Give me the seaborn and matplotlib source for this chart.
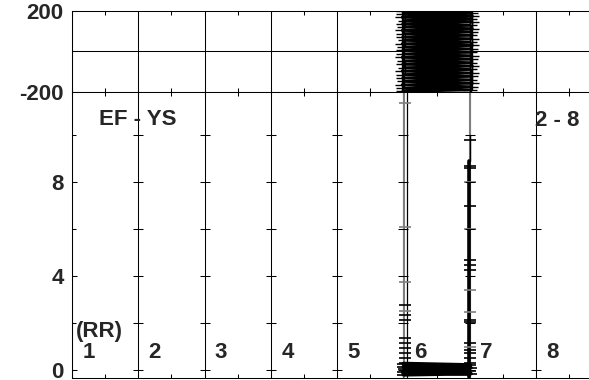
"""
Segmented RR chart: a short amplitude strip above a tall RR panel,
with the beats of segment 6 drawn on both.
"""
import matplotlib.pyplot as plt
import seaborn as sns


segment_labels = ["1", "2", "3", "4", "5", "6", "7", "8"]
segment_starts = [0, 1, 2, 3, 4, 5, 6, 7]

# top strip: burst of beats swinging across segment 6
burst_x = [4.99, 6.02, 5.0, 6.04, 4.98, 6.01, 5.02, 6.03, 4.99, 6.0,
           5.01, 6.04, 4.98, 6.02, 5.0, 6.01, 4.99, 6.03, 5.02, 6.0,
           4.98, 6.04, 5.01, 6.02, 4.99, 6.01, 5.0, 6.03, 4.98, 6.02,
           5.01, 6.0, 4.99, 6.04, 5.02, 6.01, 4.98, 6.03, 5.0, 6.02,
           4.99, 6.0, 5.01, 6.04, 4.98, 6.02, 5.0, 6.01, 4.99]
burst_y = [198, 191, 184, 176, 169, 161, 153, 146, 137, 129,
           121, 113, 104, 97, 88, 80, 71, 63, 55, 46,
           38, 30, 21, 13, 5, -4, -12, -21, -29, -38,
           -46, -55, -63, -72, -80, -89, -97, -106, -114, -123,
           -131, -140, -148, -157, -165, -174, -182, -190, -197]

# bottom panel: RR traces on the two edges of segment 6
left_grey_x = [5.015, 5.015]
left_grey_y = [-0.3, 12.5]
left_black_x = [5.05, 5.05]
left_black_y = [-0.3, 12.5]
right_grey_x = [6.01, 6.01]
right_grey_y = [-0.3, 12.5]
right_thin_x = [6.0, 6.0]
right_thin_y = [8.9, 10.0]
right_thick_x = [5.995, 5.995]
right_thick_y = [-0.3, 8.9]

left_x = 5.02
left_grey_marks = [11.36, 6.09, 3.75, 2.5]
left_black_marks = [2.77, 2.34, 2.13, 1.36, 1.15, 0.94, 0.72, 0.5, 0.3]
right_x = 6.0
right_grey_marks = [8.0, 6.0, 3.4, 2.47, 0.98]
right_black_marks = [9.8, 8.7, 8.6, 7.0, 4.7, 4.47, 4.26, 2.13, 2.04,
                     1.15, 0.85, 0.72, 0.5, 0.3]

# beats resting on the floor of segment 6
floor_x = [5.0, 6.01, 5.0, 6.02, 5.01, 6.0, 4.99, 6.02, 5.0]
floor_y = [0.28, 0.22, 0.15, 0.1, 0.03, -0.03, -0.1, -0.15, -0.2]

GREY = "#7f7f7f"


def _set_style():
    sns.set_style("white")
    plt.rcParams["font.family"] = ["Liberation Sans", "DejaVu Sans"]
    plt.rcParams["font.weight"] = "bold"
    plt.rcParams["font.size"] = 16


def _frame(ax, ylim, major, minor, labels):
    ax.set_xlim(0, 7.8)
    ax.set_ylim(*ylim)
    ax.set_xticks(segment_starts)
    ax.set_xticks([s + 0.5 for s in segment_starts], minor=True)
    ax.set_xticklabels([])
    ax.set_yticks(major)
    ax.set_yticklabels(labels)
    ax.set_yticks(minor, minor=True)
    ax.tick_params(which="both", direction="in", top=True, bottom=True,
                   left=True, right=False, width=0.75, color="black")
    ax.tick_params(which="major", length=3.6, pad=6)
    ax.tick_params(which="minor", length=3)
    ax.grid(axis="x", which="major", color="black", lw=0.75)
    for side in ["top", "bottom", "left"]:
        ax.spines[side].set_color("black")
        ax.spines[side].set_linewidth(0.75)
    ax.spines["right"].set_visible(False)
    ax.set_xlabel("")
    ax.set_ylabel("")


def _line(ax, x, y, **kw):
    sns.lineplot(x=x, y=y, sort=False, estimator=None, ax=ax, **kw)


def draw_top(ax):
    _line(ax, burst_x, burst_y, color="black", lw=2, marker="+", ms=10,
          mew=1, mec="black")
    _frame(ax, (-200, 200), [-200, 200], [0], ["-200", "200"])
    ax.grid(axis="y", which="minor", color="black", lw=0.75)


def draw_bottom(ax):
    _line(ax, left_grey_x, left_grey_y, color=GREY, lw=1.5)
    _line(ax, left_black_x, left_black_y, color="black", lw=0.9)
    _line(ax, right_grey_x, right_grey_y, color=GREY, lw=1.5)
    _line(ax, right_thin_x, right_thin_y, color="black", lw=1)
    _line(ax, right_thick_x, right_thick_y, color="black", lw=2.6)
    _line(ax, floor_x, floor_y, color="black", lw=2.6, marker="_", ms=9,
          mew=1.2, mec="black")
    marks = [(left_x, left_grey_marks, GREY), (left_x, left_black_marks, "black"),
             (right_x, right_grey_marks, GREY), (right_x, right_black_marks, "black")]
    for xv, ys, col in marks:
        _line(ax, [xv] * len(ys), ys, color=col, ls="none", marker="_",
              ms=9, mew=1.2, mec=col)
    _frame(ax, (-0.34, 11.83), [0, 4, 8], [2, 6, 10], ["0", "4", "8"])

    # tick crosses along every inner gridline
    yt = [0, 2, 4, 6, 8, 10]
    for xv in segment_starts[1:]:
        ax.plot([xv] * len(yt), yt, ls="none", marker="_", ms=7.5,
                mew=0.75, color="black")

    for xv, lab in zip(segment_starts, segment_labels):
        ax.text(xv + 0.25, 0.51, lab, ha="center", va="baseline")
    ax.text(0.42, 1.4, "(RR)", ha="center", va="baseline")
    ax.text(0.99, 10.42, "EF - YS", ha="center", va="baseline")
    ax.text(7.32, 10.4, "2 - 8", ha="center", va="baseline")


def main():
    _set_style()
    fig = plt.figure(figsize=(5.89, 3.80), dpi=100)
    ax_top = fig.add_axes([0.1222, 0.758, 0.8778, 0.213])
    ax_bot = fig.add_axes([0.1222, 0.005, 0.8778, 0.753])
    draw_top(ax_top)
    draw_bottom(ax_bot)
    fig.savefig("out.png", dpi=100)


if __name__ == "__main__":
    main()
